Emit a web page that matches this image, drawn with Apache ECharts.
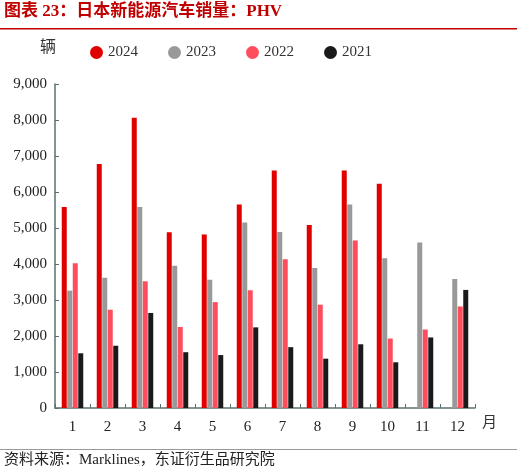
<!DOCTYPE html>
<html><head><meta charset="utf-8">
<script src="https://cdn.jsdelivr.net/npm/echarts@6/dist/echarts.min.js"></script>
<style>body{margin:0}#c{width:517px;height:475px}</style></head>
<body><div id="c"></div>
<script>
const months = ['1','2','3','4','5','6','7','8','9','10','11','12'];
const s2024 = [5580,6780,8060,4880,4820,5650,6600,5080,6600,6230,null,null];
const s2023 = [3260,3620,5580,3950,3560,5150,4890,3890,5650,4160,4600,3580];
const s2022 = [4020,2730,3520,2250,2940,3270,4130,2870,4650,1930,2180,2820];
const s2021 = [1520,1730,2640,1550,1470,2240,1690,1370,1770,1270,1960,3280];

const chart = echarts.init(document.getElementById('c'));
const font = '"Liberation Serif","Noto Sans CJK SC",serif';
const bar = (name, data, color) => ({name, type:'bar', data, barWidth:5, itemStyle:{color}});
chart.setOption({
  textStyle:{fontFamily:font},
  graphic:[
    {type:'text', left:4, top:3, style:{text:'图表 23：日本新能源汽车销量：PHV', fill:'#c00000', font:'bold 17px '+font}},
    {type:'rect', shape:{x:0,y:28,width:517,height:1.5}, style:{fill:'#c00000'}},
    {type:'text', left:40, top:40, style:{text:'辆', fill:'#333', font:'16px '+font}},
    {type:'text', left:482, top:416, style:{text:'月', fill:'#333', font:'15px '+font}},
    {type:'rect', shape:{x:0,y:449,width:517,height:1}, style:{fill:'#999'}},
    {type:'text', left:4, top:453, style:{text:'资料来源：Marklines，东证衍生品研究院', fill:'#222', font:'15px '+font}}
  ],
  legend:{top:40, left:85, itemWidth:13, itemHeight:13, itemGap:30, icon:'circle',
    textStyle:{fontSize:15, color:'#333', fontFamily:font},
    data:['2024','2023','2022','2021']},
  grid:{left:55, right:42, top:84, bottom:67},
  xAxis:{type:'category', data:months,
    axisLine:{lineStyle:{color:'#5a7070', width:1.5}},
    axisTick:{show:true, inside:true, length:4, lineStyle:{color:'#5a7070'}},
    axisLabel:{fontSize:15, color:'#222', margin:12}},
  yAxis:{type:'value', min:0, max:9000, interval:1000,
    axisLine:{show:true, lineStyle:{color:'#5a7070', width:1.5}},
    axisTick:{show:true, inside:true, length:4, lineStyle:{color:'#5a7070'}},
    splitLine:{show:false},
    axisLabel:{fontSize:15, color:'#222', formatter:v=>v.toLocaleString('en-US')}},
  series:[
    bar('2024', s2024, '#e00000'),
    bar('2023', s2023, '#999999'),
    bar('2022', s2022, '#ff4d5e'),
    bar('2021', s2021, '#1a1a1a')
  ]
});
</script></body></html>
